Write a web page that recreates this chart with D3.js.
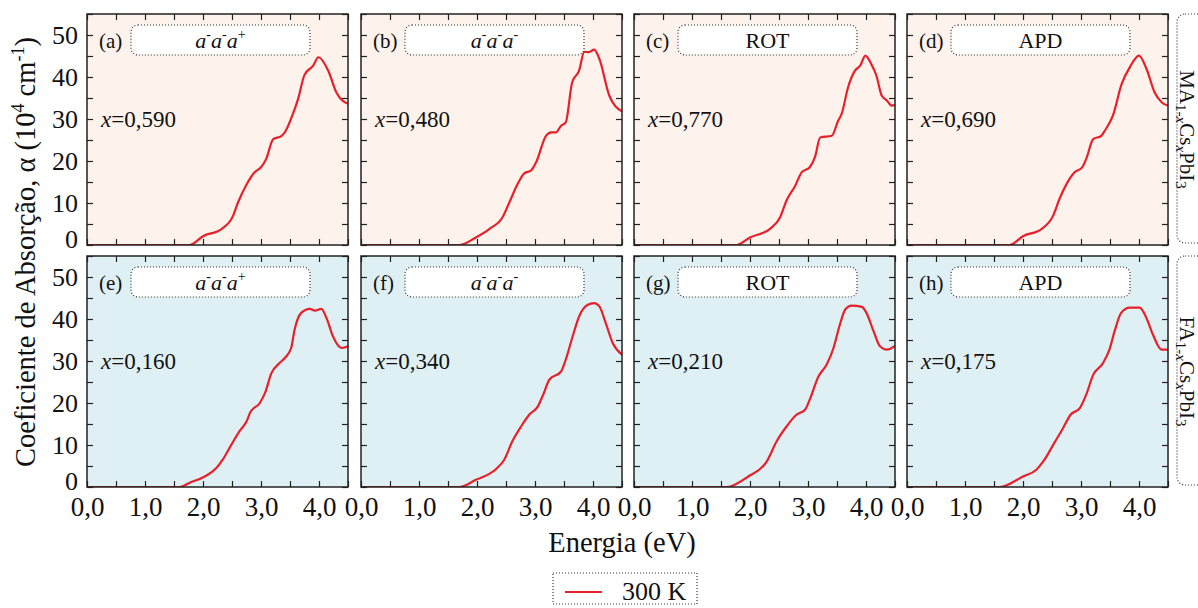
<!DOCTYPE html>
<html>
<head>
<meta charset="utf-8">
<script src="https://cdn.jsdelivr.net/npm/d3@7"></script>
<style>
  body { margin: 0; background: #fff; }
  svg { display: block; }
  text { font-family: "Liberation Serif", "Times New Roman", serif; fill: #111; }
</style>
</head>
<body>
<svg id="chart" width="1198" height="608"></svg>
<script>
// Absorption spectra at 300 K: photon energy (eV) vs alpha (10^4 cm^-1)
// Top row: MA(1-x)Cs(x)PbI3, bottom row: FA(1-x)Cs(x)PbI3
const energyA = [0, 1.77, 2.0, 2.32, 2.52, 2.6, 2.74, 2.89, 3.0, 3.09, 3.21, 3.35, 3.41, 3.55, 3.64, 3.75, 3.9, 3.99, 4.16, 4.3, 4.5];
const alphaA  = [0, 0, 2.1, 3.8, 7.0, 10.0, 14.1, 17.3, 18.5, 20.5, 25.2, 25.9, 26.8, 31.2, 34.8, 40.5, 42.7, 44.7, 41.5, 36.3, 33.6];

const energyB = [0, 1.70, 1.98, 2.21, 2.44, 2.56, 2.7, 2.82, 2.93, 3.02, 3.19, 3.28, 3.36, 3.45, 3.53, 3.64, 3.76, 3.85, 3.93, 4.02, 4.11, 4.28, 4.5];
const alphaB  = [0, 0, 1.8, 3.8, 6.6, 10.2, 14.5, 17.1, 17.7, 19.7, 26.0, 26.8, 26.8, 28.4, 29.2, 38.7, 41.5, 46.0, 45.9, 46.5, 44.3, 35.6, 31.8];

const energyC = [0, 1.77, 2.0, 2.34, 2.52, 2.63, 2.78, 2.89, 3.03, 3.12, 3.21, 3.41, 3.52, 3.58, 3.69, 3.81, 3.9, 3.99, 4.09, 4.18, 4.27, 4.36, 4.44, 4.5];
const alphaC  = [0, 0, 1.8, 3.8, 6.6, 10.6, 14.1, 17.3, 18.5, 20.9, 25.6, 26.0, 29.6, 31.2, 37.5, 41.5, 42.7, 45.1, 43.1, 40.3, 35.6, 34.4, 33.2, 33.3];

const energyD = [0, 1.77, 2.0, 2.32, 2.52, 2.63, 2.75, 2.89, 3.02, 3.09, 3.21, 3.35, 3.41, 3.55, 3.7, 3.84, 4.0, 4.13, 4.27, 4.39, 4.5];
const alphaD  = [0, 0, 2.1, 3.8, 7.0, 11.0, 14.5, 17.3, 18.5, 20.5, 25.2, 26.0, 27.2, 30.8, 38.3, 42.3, 45.1, 41.9, 36.3, 34.0, 33.2];

const energyE = [0, 1.6, 1.77, 2.03, 2.23, 2.34, 2.49, 2.63, 2.75, 2.82, 2.98, 3.07, 3.18, 3.32, 3.41, 3.52, 3.58, 3.69, 3.84, 3.93, 4.04, 4.13, 4.24, 4.39, 4.5];
const alphaE  = [0, 0, 1.0, 2.5, 4.5, 6.5, 10.1, 13.3, 15.6, 17.9, 20.0, 22.4, 27.1, 29.5, 30.7, 33.1, 37.5, 41.4, 42.4, 42.0, 42.4, 40.2, 35.9, 33.1, 33.5];

const energyF = [0, 1.70, 1.98, 2.33, 2.47, 2.61, 2.76, 2.9, 3.05, 3.13, 3.25, 3.45, 3.53, 3.65, 3.76, 3.91, 4.02, 4.11, 4.22, 4.34, 4.5];
const alphaF  = [0, 0, 1.7, 4.3, 6.5, 10.9, 14.4, 17.2, 19.2, 21.6, 25.6, 27.5, 30.3, 35.9, 40.6, 43.4, 43.8, 43.0, 39.0, 34.3, 31.5];

const energyG = [0, 1.6, 1.97, 2.29, 2.46, 2.63, 2.8, 2.95, 3.03, 3.18, 3.32, 3.44, 3.55, 3.64, 3.75, 3.93, 4.01, 4.13, 4.24, 4.36, 4.5];
const alphaG  = [0, 0, 2.5, 6.1, 10.9, 14.4, 17.2, 18.4, 20.8, 26.3, 29.1, 33.1, 38.7, 42.2, 43.2, 42.9, 41.4, 37.1, 33.5, 32.7, 33.6];

const energyH = [0, 1.6, 2.0, 2.23, 2.37, 2.54, 2.69, 2.82, 2.98, 3.09, 3.21, 3.38, 3.49, 3.58, 3.69, 3.84, 4.01, 4.13, 4.24, 4.39, 4.5];
const alphaH  = [0, 0, 2.5, 4.1, 6.5, 10.5, 14.0, 17.2, 18.8, 22.0, 26.7, 29.5, 32.7, 37.1, 41.4, 42.7, 42.7, 40.2, 36.3, 32.7, 32.7];

const panelTags   = ["(a)", "(b)", "(c)", "(d)", "(e)", "(f)", "(g)", "(h)"];
const phaseNames  = ["a-a-a+", "a-a-a-", "ROT", "APD", "a-a-a+", "a-a-a-", "ROT", "APD"];
const csFractions = ["0,590", "0,480", "0,770", "0,690", "0,160", "0,340", "0,210", "0,175"];
const rowCations  = ["MA", "FA"];
const xTickLabels = [0, 1, 2, 3, 4];
const yTickLabels = [0, 10, 20, 30, 40, 50];
const legendLabel = "300 K";

const energies = [energyA, energyB, energyC, energyD, energyE, energyF, energyG, energyH];
const alphas   = [alphaA, alphaB, alphaC, alphaD, alphaE, alphaF, alphaG, alphaH];

// ---------- layout ----------
const colLeft = [87, 361, 634, 907];
const rowTop  = [14, 256];
const W = 261, H = 231;
const rowFill = ["#fdf2ec", "#def0f4"];
const lineColor = "#e8202a";
const ink = "#222";

const svg = d3.select("#chart");
const x = d3.scaleLinear().domain([0, 4.5]).range([0, W]);
const y = d3.scaleLinear().domain([0, 55]).range([H, 0]);
const line = d3.line().x(d => x(d[0])).y(d => y(d[1])).curve(d3.curveMonotoneX);
const fmtComma = d => d.toFixed(1).replace(".", ",");

const defs = svg.append("defs");
defs.append("clipPath").attr("id", "plotClip")
  .append("rect").attr("width", W).attr("height", H);

// Renders Glazer tilt notation like "a-a-a+" as italic a with raised signs
function phaseText(sel, name) {
  const m = name.match(/a([+-])/g);
  if (!m) { sel.text(name); return; }
  m.forEach(tok => {
    sel.append("tspan").attr("font-style", "italic").attr("dy", 0).text("a");
    sel.append("tspan").attr("font-size", 14).attr("dy", -9).text(tok[1] === "-" ? "-" : "+");
    sel.append("tspan").attr("font-size", 1).attr("dy", 9).text("\u200a");
  });
}

function tickAxis(g, axis) {
  g.call(axis.tickFormat("").tickSizeOuter(0));
  g.select(".domain").remove();
  g.selectAll(".tick line").attr("stroke", ink).attr("stroke-width", 1.2);
}

for (let i = 0; i < 8; i++) {
  const r = Math.floor(i / 4), c = i % 4;
  const g = svg.append("g").attr("transform", `translate(${colLeft[c]},${rowTop[r]})`);

  g.append("rect").attr("width", W).attr("height", H).attr("fill", rowFill[r]);

  const pts = energies[i].map((e, k) => [e, alphas[i][k]]);
  g.append("path").datum(pts)
    .attr("clip-path", "url(#plotClip)")
    .attr("fill", "none").attr("stroke", lineColor).attr("stroke-width", 2.2)
    .attr("stroke-linejoin", "round")
    .attr("d", line);

  const xt = d3.range(0, 4.51, 0.5), yt = d3.range(0, 55.1, 5);
  tickAxis(g.append("g").attr("transform", `translate(0,${H})`), d3.axisBottom(x).tickValues(xt).tickSize(-6));
  tickAxis(g.append("g"), d3.axisTop(x).tickValues(xt).tickSize(-6));
  tickAxis(g.append("g"), d3.axisLeft(y).tickValues(yt).tickSize(-6));
  tickAxis(g.append("g").attr("transform", `translate(${W},0)`), d3.axisRight(y).tickValues(yt).tickSize(-6));

  g.append("rect").attr("width", W).attr("height", H)
    .attr("fill", "none").attr("stroke", ink).attr("stroke-width", 1.5);

  // tick labels on outer panels only
  if (r === 1) {
    const ax = g.append("g").attr("transform", `translate(0,${H})`)
      .call(d3.axisBottom(x).tickValues(xTickLabels).tickSize(0).tickPadding(10).tickFormat(fmtComma));
    ax.select(".domain").remove();
    ax.selectAll("text").attr("font-size", 27).attr("font-family", "Liberation Serif").attr("fill", "#111");
  }
  if (c === 0) {
    const ay = g.append("g")
      .call(d3.axisLeft(y).tickValues(yTickLabels).tickSize(0).tickPadding(9));
    ay.select(".domain").remove();
    ay.selectAll("text").attr("font-size", 26).attr("font-family", "Liberation Serif").attr("fill", "#111")
      .attr("dy", d => d === 0 ? "0.1em" : "0.32em");
  }

  // panel tag, phase box, composition
  g.append("text").attr("x", 12).attr("y", 34).attr("font-size", 21).text(panelTags[i]);
  g.append("rect").attr("x", 44).attr("y", 11).attr("width", 179).attr("height", 30).attr("rx", 7)
    .attr("fill", "#fff").attr("stroke", "#333").attr("stroke-width", 1.2)
    .attr("stroke-dasharray", "1 2");
  const pt = g.append("text").attr("x", 44 + 179 / 2).attr("y", 34)
    .attr("text-anchor", "middle").attr("font-size", 22);
  phaseText(pt, phaseNames[i]);

  const ct = g.append("text").attr("x", 14).attr("y", 113).attr("font-size", 23);
  ct.append("tspan").attr("font-style", "italic").text("x");
  ct.append("tspan").text("=" + csFractions[i]);
}

// row composition labels on the right
rowCations.forEach((cat, r) => {
  svg.append("rect").attr("x", 1177).attr("y", rowTop[r]).attr("width", 40).attr("height", H - 2)
    .attr("rx", 8).attr("fill", "#fff").attr("stroke", "#333").attr("stroke-width", 1.2)
    .attr("stroke-dasharray", "1 2");
  const t = svg.append("text")
    .attr("transform", `translate(1180,${rowTop[r] + H / 2}) rotate(90)`)
    .attr("text-anchor", "middle").attr("font-size", 21);
  const parts = [[cat, 0], ["1-", 1], ["x", 2], ["Cs", 0], ["x", 2], ["PbI", 0], ["3", 1]];
  let shifted = false;
  parts.forEach(([s, kind]) => {
    const sp = t.append("tspan").text(s);
    if (kind > 0) {
      sp.attr("font-size", 15);
      if (kind === 2) sp.attr("font-style", "italic");
      if (!shifted) { sp.attr("dy", 4); shifted = true; }
    } else if (shifted) { sp.attr("dy", -4); shifted = false; }
  });
});

// axis titles
svg.append("text").attr("x", 622).attr("y", 552).attr("text-anchor", "middle")
  .attr("font-size", 28.5).text("Energia (eV)");

const yt = svg.append("text").attr("transform", "translate(35,252) rotate(-90)")
  .attr("text-anchor", "middle").attr("font-size", 28.5);
yt.append("tspan").text("Coeficiente de Absorção, α (10");
yt.append("tspan").attr("font-size", 18).attr("dy", -11).text("4");
yt.append("tspan").attr("dy", 11).text(" cm");
yt.append("tspan").attr("font-size", 18).attr("dy", -11).text("-1");
yt.append("tspan").attr("dy", 11).text(")");

// legend
const lg = svg.append("g");
lg.append("rect").attr("x", 553).attr("y", 573).attr("width", 144).attr("height", 31)
  .attr("fill", "#fff").attr("stroke", "#333").attr("stroke-width", 1.2).attr("stroke-dasharray", "1 2");
lg.append("line").attr("x1", 565).attr("x2", 602).attr("y1", 592).attr("y2", 592)
  .attr("stroke", lineColor).attr("stroke-width", 2.2);
lg.append("text").attr("x", 622).attr("y", 600).attr("font-size", 26).text(legendLabel);
</script>
</body>
</html>
